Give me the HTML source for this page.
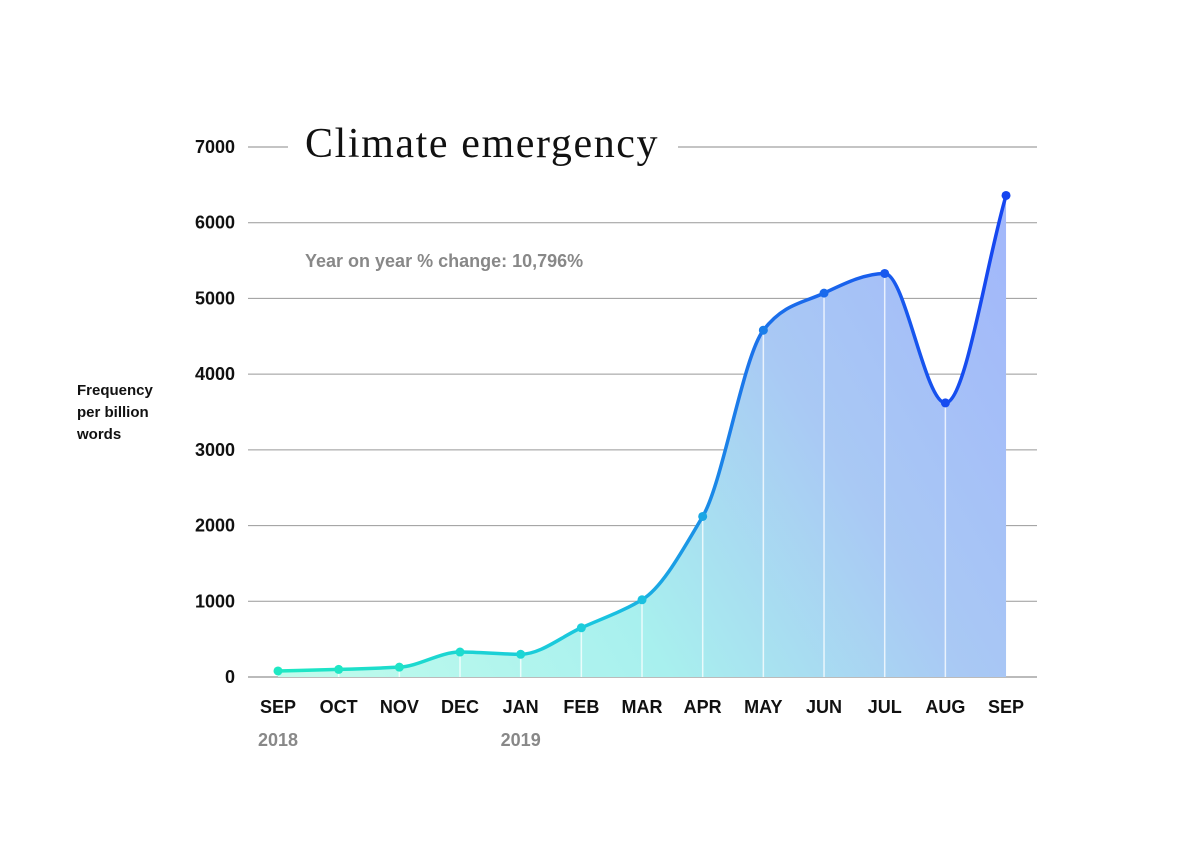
<!DOCTYPE html>
<html><head><meta charset="utf-8">
<style>
html,body{margin:0;padding:0;background:#fff;}
svg{display:block;}
</style></head>
<body>
<svg id="chart" width="1200" height="849" viewBox="0 0 1200 849" xmlns="http://www.w3.org/2000/svg">
<defs>
<linearGradient id="strokeGrad" x1="278" y1="0" x2="1006" y2="0" gradientUnits="userSpaceOnUse">
<stop offset="0" stop-color="#1fe8c3"/>
<stop offset="0.45" stop-color="#19c4e0"/>
<stop offset="0.65" stop-color="#1b73ea"/>
<stop offset="1" stop-color="#1545f0"/>
</linearGradient>
<linearGradient id="fillGrad" x1="278" y1="677" x2="1006" y2="250" gradientUnits="userSpaceOnUse">
<stop offset="0" stop-color="#c0fcec"/>
<stop offset="0.4" stop-color="#a8f0ee"/>
<stop offset="0.7" stop-color="#a9c9f4"/>
<stop offset="1" stop-color="#a2b8fa"/>
</linearGradient>
</defs>
<g id="grid"></g>
<g id="yticks"></g>
<text x="305" y="157" font-family="'Liberation Serif', serif" font-size="42" letter-spacing="1.6" fill="#111">Climate emergency</text>
<text x="305" y="267" font-family="'Liberation Sans', sans-serif" font-size="18" font-weight="bold" fill="#888">Year on year % change:  10,796%</text>
<g font-family="'Liberation Sans', sans-serif" font-size="15" font-weight="bold" fill="#111">
<text x="77" y="395">Frequency</text>
<text x="77" y="417">per billion</text>
<text x="77" y="439">words</text>
</g>
<path id="area" fill="url(#fillGrad)"/>
<g id="vlines"></g>
<path id="line" fill="none" stroke="url(#strokeGrad)" stroke-width="3.5"/>
<g id="points"></g>
<g id="xticks"></g>
</svg>
<script>
const months = ["SEP","OCT","NOV","DEC","JAN","FEB","MAR","APR","MAY","JUN","JUL","AUG","SEP"];
const years = ["2018","","","","2019","","","","","","","",""];
const values = [80,100,130,330,300,650,1020,2120,4580,5070,5330,3620,6360];
const yTicks = [0,1000,2000,3000,4000,5000,6000,7000];

const NS="http://www.w3.org/2000/svg";
const x0=278, dx=60.67, yBase=677, yPer=530/7000;
const X=i=>x0+i*dx;
const Y=v=>yBase-v*yPer;
function mk(tag,attrs,parent){const e=document.createElementNS(NS,tag);for(const k in attrs)e.setAttribute(k,attrs[k]);parent.appendChild(e);return e;}

const grid=document.getElementById('grid'), yt=document.getElementById('yticks');
yTicks.forEach(t=>{
  const y=Y(t);
  if(t===7000){
    const l=mk('line',{x1:248,x2:288,y1:y,y2:y,stroke:'#888','stroke-width':1},grid);
    
    
    const l2=mk('line',{x1:678,x2:1037,y1:y,y2:y,stroke:'#888','stroke-width':1},grid);
    
    
  } else {
    const l=mk('line',{x1:248,x2:1037,y1:y,y2:y,stroke:t===0?'#777':'#999','stroke-width':1},grid);
    
    
  }
  const tx=mk('text',{x:235,y:y+6,'text-anchor':'end','font-family':"'Liberation Sans', sans-serif",'font-size':18,'font-weight':'bold',fill:'#111'},yt);
  tx.textContent=t;
  
  
});

const pts=values.map((v,i)=>[X(i),Y(v)]);
function monotone(p){
  const n=p.length, dlt=[], m=[];
  for(let i=0;i<n-1;i++) dlt.push((p[i+1][1]-p[i][1])/(p[i+1][0]-p[i][0]));
  m[0]=dlt[0]; m[n-1]=dlt[n-2];
  for(let i=1;i<n-1;i++){
    if(dlt[i-1]*dlt[i]<=0) m[i]=0;
    else m[i]=(3*dlt[i-1]*dlt[i])/(2*dlt[i]+dlt[i-1])*1.5/1.5;
  }
  let d='M'+p[0][0]+','+p[0][1];
  for(let i=0;i<n-1;i++){
    const h=(p[i+1][0]-p[i][0])/3;
    d+=' C'+(p[i][0]+h)+','+(p[i][1]+m[i]*h)+' '+(p[i+1][0]-h)+','+(p[i+1][1]-m[i+1]*h)+' '+p[i+1][0]+','+p[i+1][1];
  }
  return d;
}
const d=monotone(pts);
document.getElementById('line').setAttribute('d',d);
document.getElementById('area').setAttribute('d',d+' L'+X(values.length-1)+','+yBase+' L'+X(0)+','+yBase+' Z');

const vl=document.getElementById('vlines'), pg=document.getElementById('points'), xt=document.getElementById('xticks');
const colors=["#1fe8c3","#1fe6c5","#1fe3c8","#1ddccf","#1cd6d5","#1ccddb","#1bc0e0","#1aa6e4","#1a7ee9","#1a6aec","#1858ee","#164bf0","#1545f0"];
values.forEach((v,i)=>{
  if(i>0&&i<values.length-1){
    const l=mk('line',{x1:X(i),x2:X(i),y1:Y(v),y2:yBase,stroke:'#fff','stroke-opacity':0.75,'stroke-width':1.5},vl);
    
    
  }
  const c=mk('circle',{cx:X(i),cy:Y(v),r:4.5,fill:colors[i]},pg);
  
  
  const t=mk('text',{x:X(i),y:713,'text-anchor':'middle','font-family':"'Liberation Sans', sans-serif",'font-size':18,'font-weight':'bold',fill:'#111'},xt);
  t.textContent=months[i];
  
  
  if(years[i]){
    const y=mk('text',{x:X(i),y:746,'text-anchor':'middle','font-family':"'Liberation Sans', sans-serif",'font-size':18,'font-weight':'bold',fill:'#888'},xt);
    y.textContent=years[i];
    
    
  }
});
</script>
</body></html>
